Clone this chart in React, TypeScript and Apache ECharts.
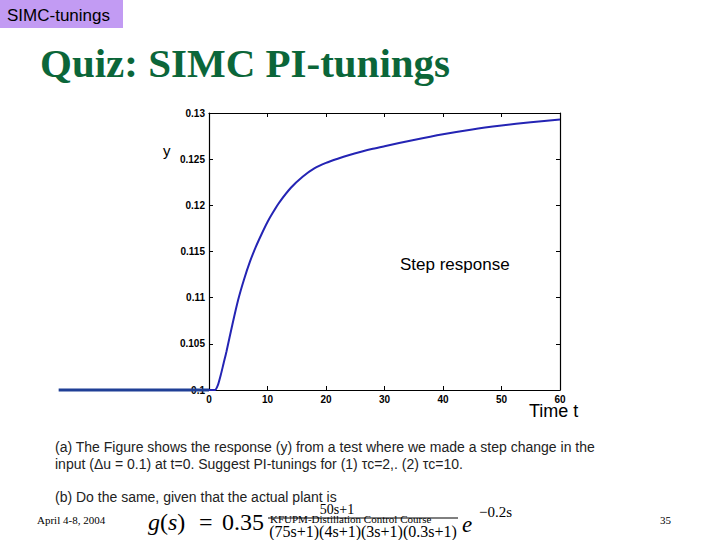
import React, { useEffect, useRef } from "react";
import * as echarts from "echarts";

const timeT = [0, 1, 1.5, 2, 2.5, 3, 4, 5, 6, 7, 8, 9, 10, 11, 12, 14, 16, 18, 20, 22, 24, 26, 28, 30, 35, 40, 45, 50, 55, 60];
const yValues = [0.1, 0.1, 0.1005, 0.1016, 0.1029, 0.1042, 0.1071, 0.1098, 0.112, 0.1139, 0.1155, 0.1169, 0.1182, 0.1193, 0.1203, 0.1219, 0.1231, 0.124, 0.1246, 0.12505, 0.12545, 0.1258, 0.12612, 0.1264, 0.12708, 0.1277, 0.12822, 0.12864, 0.129, 0.1293];
const preStepT = [-25.7, 0];
const preStepY = [0.1, 0.1];
const xTicks = [0, 10, 20, 30, 40, 50, 60];
const yTicks = ["0.1", "0.105", "0.11", "0.115", "0.12", "0.125", "0.13"];

const para1 = "(a) The Figure shows the response (y) from a test where we made a step change in the";
const para2 = "input (\u0394u = 0.1) at t=0. Suggest PI-tunings for (1) \u03c4c=2,. (2) \u03c4c=10.";
const para3 = "(b) Do the same, given that the actual plant is";

export default function App() {
  const ref = useRef<HTMLDivElement>(null);
  useEffect(() => {
    if (!ref.current) return;
    const chart = echarts.init(ref.current, null, { renderer: "svg" });
    const tickLabel = {
      fontFamily: "Arial, 'Liberation Sans', sans-serif",
      fontWeight: "bold" as const,
      fontSize: 10,
      color: "#000",
    };
    const yFmt = (v: number) => {
      const idx = Math.round((v - 0.1) / 0.005);
      return yTicks[idx] ?? "";
    };
    const sans = "Arial, 'Liberation Sans', Helvetica, sans-serif";
    const serif = "'Times New Roman', 'Liberation Serif', 'DejaVu Serif', serif";
    const axisLine = { show: true, onZero: false, lineStyle: { color: "#000", width: 1.2 } };
    const axisTick = { show: true, inside: true, length: 4, lineStyle: { color: "#000" } };
    chart.setOption({
      animation: false,
      backgroundColor: "#fff",
      grid: { left: 209, right: 160, top: 113, bottom: 150, show: false },
      xAxis: [
        {
          type: "value", min: 0, max: 60, interval: 10,
          axisLine, axisTick,
          axisLabel: { ...tickLabel, margin: 4, formatter: (v: number) => (xTicks.includes(v) ? String(v) : "") },
          splitLine: { show: false },
        },
        {
          type: "value", position: "top", min: 0, max: 60, interval: 10,
          axisLine, axisTick, axisLabel: { show: false }, splitLine: { show: false },
        },
      ],
      yAxis: [
        {
          type: "value", min: 0.1, max: 0.13, interval: 0.005,
          axisLine, axisTick,
          axisLabel: { ...tickLabel, margin: 4, formatter: yFmt },
          splitLine: { show: false },
        },
        {
          type: "value", position: "right", min: 0.1, max: 0.13, interval: 0.005,
          axisLine, axisTick, axisLabel: { show: false }, splitLine: { show: false },
        },
      ],
      series: [
        {
          type: "line",
          data: timeT.map((t, i) => [t, yValues[i]]),
          smooth: 0.25,
          showSymbol: false,
          lineStyle: { color: "#2424b4", width: 2 },
          z: 3,
        },
      ],
      graphic: [
        { type: "rect", shape: { x: 0, y: 0, width: 123, height: 28 }, style: { fill: "#c29bf3" } },
        { type: "text", x: 7, y: 15, style: { text: "SIMC-tunings", font: `17px ${sans}`, fill: "#000", verticalAlign: "middle" } },
        { type: "text", x: 40, y: 63, style: { text: "Quiz: SIMC PI-tunings", font: `bold 41px ${serif}`, fill: "#0b6639", verticalAlign: "middle" } },
        { type: "text", x: 163, y: 150, style: { text: "y", font: `15px ${sans}`, fill: "#000", verticalAlign: "middle" } },
        { type: "text", x: 400, y: 264, style: { text: "Step response", font: `17px ${sans}`, fill: "#000", verticalAlign: "middle" } },
        { type: "text", x: 529, y: 411, style: { text: "Time t", font: `18px ${sans}`, fill: "#000", verticalAlign: "middle" } },
        { type: "text", x: 55, y: 447, style: { text: para1, font: `14px ${sans}`, fill: "#222", verticalAlign: "middle" } },
        { type: "text", x: 55, y: 464, style: { text: para2, font: `14px ${sans}`, fill: "#222", verticalAlign: "middle" } },
        { type: "text", x: 55, y: 497, style: { text: para3, font: `14px ${sans}`, fill: "#222", verticalAlign: "middle" } },
        { type: "text", x: 37, y: 520, style: { text: "April 4-8, 2004", font: `11px ${serif}`, fill: "#000", verticalAlign: "middle" } },
        { type: "text", x: 660, y: 520, style: { text: "35", font: `11px ${serif}`, fill: "#000", verticalAlign: "middle" } },
        {
          type: "text", x: 148, y: 522,
          style: {
            text: "{i|g}({i|s})",
            font: `24px ${serif}`, fill: "#000", verticalAlign: "middle",
            rich: { i: { font: `italic 24px ${serif}`, fill: "#000" } },
          },
        },
        { type: "text", x: 199, y: 522, style: { text: "=", font: `24px ${serif}`, fill: "#000", verticalAlign: "middle" } },
        { type: "text", x: 222, y: 522, style: { text: "0.35", font: `24px ${serif}`, fill: "#000", verticalAlign: "middle" } },
        { type: "text", x: 337, y: 509, style: { text: "50s+1", font: `14px ${serif}`, fill: "#000", align: "center", verticalAlign: "middle" } },
        { type: "line", shape: { x1: 268, y1: 518, x2: 458, y2: 518 }, style: { stroke: "#000", lineWidth: 1 } },
        { type: "text", x: 363, y: 531, style: { text: "(75s+1)(4s+1)(3s+1)(0.3s+1)", font: `16px ${serif}`, fill: "#000", align: "center", verticalAlign: "middle" } },
        { type: "text", x: 270, y: 519, style: { text: "KFUPM-Distillation Control Course", font: `11px ${serif}`, fill: "#000", verticalAlign: "middle" } },
        { type: "text", x: 462, y: 524, style: { text: "e", font: `italic 23px ${serif}`, fill: "#000", verticalAlign: "middle" } },
        { type: "text", x: 479, y: 512, style: { text: "\u22120.2s", font: `15px ${serif}`, fill: "#000", verticalAlign: "middle" } },
      ],
    });
    const p0 = chart.convertToPixel({ gridIndex: 0 }, [preStepT[0], preStepY[0]]) as number[];
    const p1 = chart.convertToPixel({ gridIndex: 0 }, [preStepT[1], preStepY[1]]) as number[];
    chart.setOption({
      graphic: [
        {
          id: "prestep",
          type: "line",
          z: 10,
          shape: { x1: p0[0], y1: p0[1], x2: p1[0], y2: p1[1] },
          style: { stroke: "#1f3f96", lineWidth: 3 },
        },
      ],
    });
    return () => chart.dispose();
  }, []);
  return <div ref={ref} style={{ position: "fixed", left: 0, top: 0, width: 720, height: 540 }} />;
}
